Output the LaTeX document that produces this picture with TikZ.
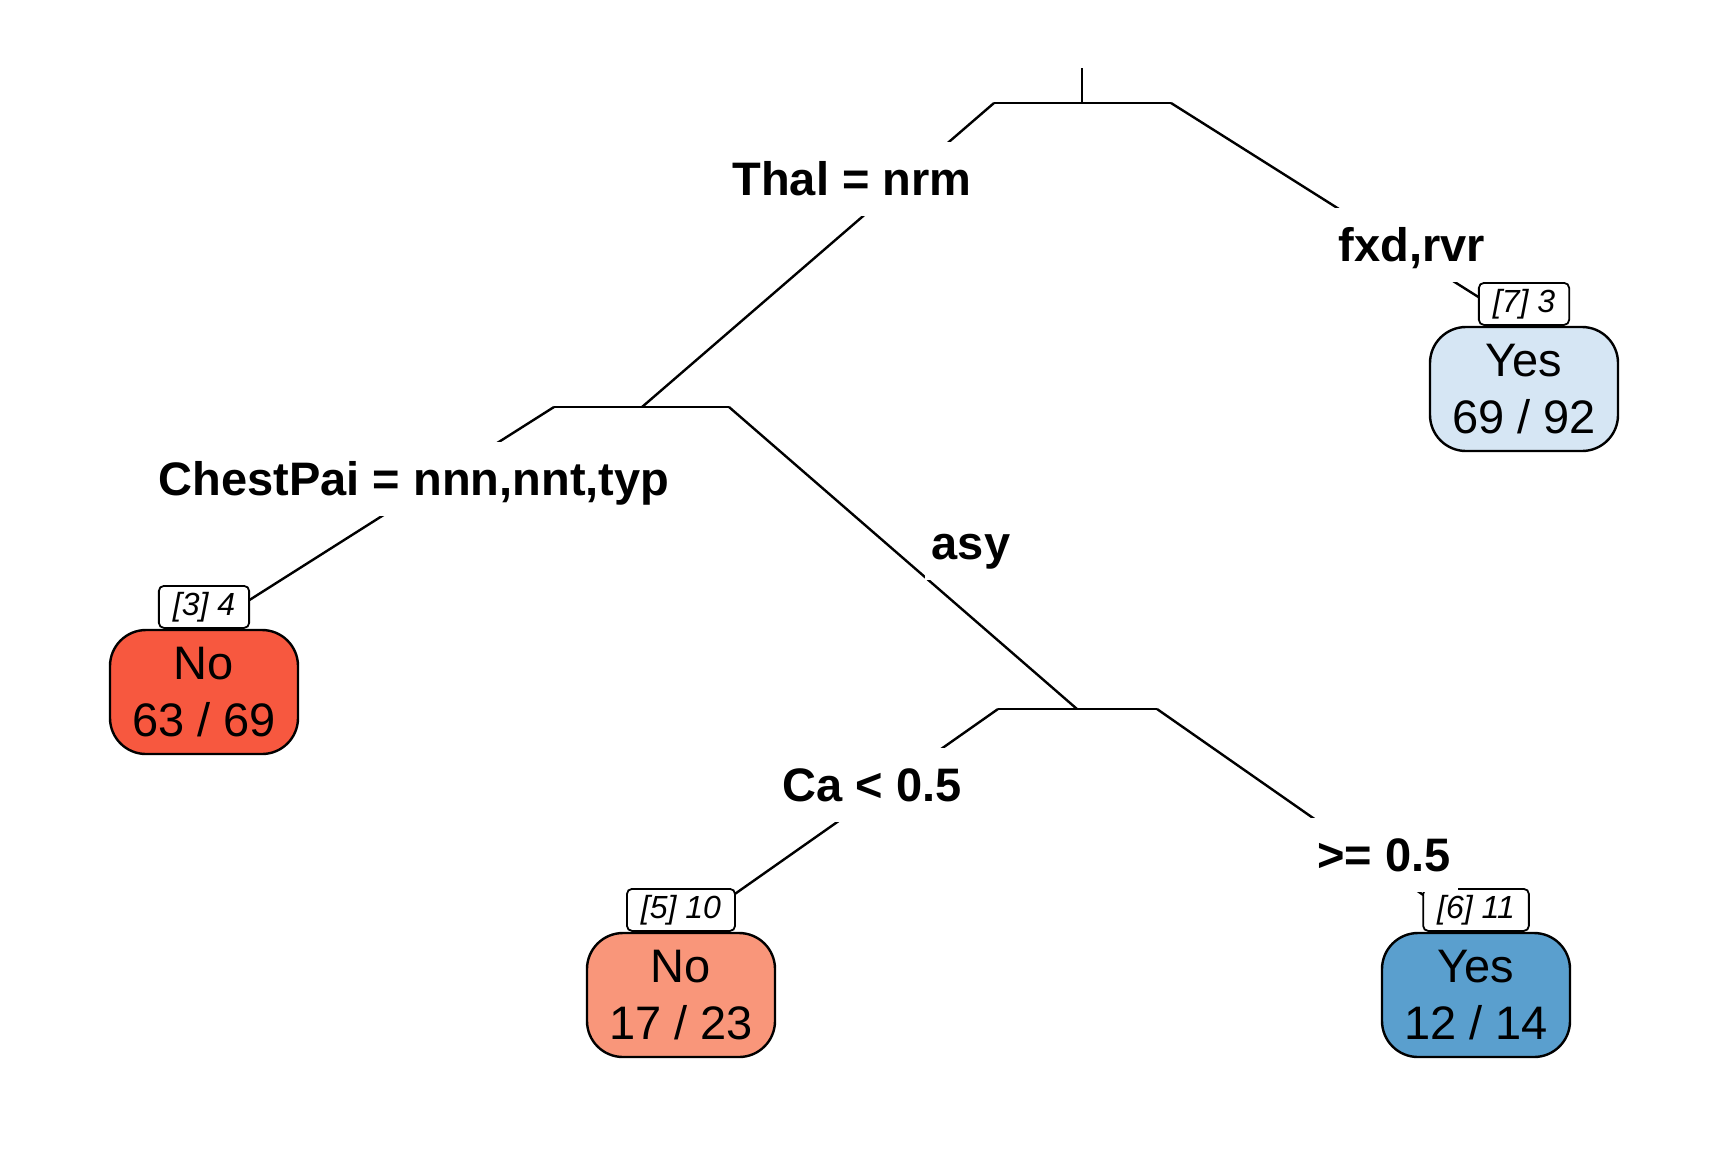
\documentclass[tikz,border=0pt]{standalone}
\usepackage{fontspec}
\setmainfont{Liberation Sans}
\definecolor{leafRed}{RGB}{247,88,63}
\definecolor{leafSalmon}{RGB}{249,150,122}
\definecolor{leafBlue}{RGB}{90,159,206}
\definecolor{leafLight}{RGB}{214,230,244}
\begin{document}
\begin{tikzpicture}[x=0.5pt,y=-0.5pt,
  branch/.style={line width=1.2pt},
  split/.style={fill=white, font=\fontsize{23.5}{28}\selectfont\bfseries, text height=16.8pt, text depth=0pt, inner ysep=10pt, inner xsep=3.5pt},
  leaf/.style={draw, line width=1.2pt, rounded corners=18pt, minimum width=94pt, minimum height=62pt, align=center, font=\fontsize{23.5}{28.5}\selectfont, inner sep=0pt},
  tag/.style={draw, fill=white, line width=0.9pt, rounded corners=2.5pt, minimum height=21pt, inner xsep=7pt, inner ysep=0pt, font=\fontsize{16}{16}\selectfont\itshape, anchor=south}
]
\useasboundingbox (0,0) rectangle (1728,1152);
% junctions
\coordinate (top) at (1082,68);
\coordinate (r) at (1082,103);
\coordinate (rl) at (994,103);
\coordinate (rr) at (1171,103);
\coordinate (n2) at (642,407);
\coordinate (n2l) at (554,407);
\coordinate (n2r) at (729,407);
\coordinate (n4) at (1077,709);
\coordinate (n4l) at (998,709);
\coordinate (n4r) at (1157,709);
% leaves
\node[leaf, fill=leafLight] (L7) at (1524,389) {Yes\\69 / 92};
\node[leaf, fill=leafRed] (L3) at (204,692) {No\\63 / 69};
\node[leaf, fill=leafSalmon] (L5) at (681,995) {No\\17 / 23};
\node[leaf, fill=leafBlue] (L6) at (1476,995) {Yes\\12 / 14};
% branches
\draw[branch] (top) -- (r);
\draw[branch] (rl) -- (rr);
\draw[branch] (rl) -- (n2);
\draw[branch] (rr) -- (L7.north);
\draw[branch] (n2l) -- (n2r);
\draw[branch] (n2l) -- (L3.north);
\draw[branch] (n2r) -- (n4);
\draw[branch] (n4l) -- (n4r);
\draw[branch] (n4l) -- (L5.north);
\draw[branch] (n4r) -- (L6.north);
% tags
\node[tag] (K7) at (L7.north) {[7] 3};
\node[tag] (K3) at (L3.north) {[3] 4};
\node[tag] (K5) at (L5.north) {[5] 10};
\node[tag] (K6) at (L6.north) {[6] 11};
% split labels
\node[split] (s1) at (852,179) {Thal = nrm};
\node[split] (s2) at (1412,245) {fxd,rvr};
\node[split] (s3) at (414,479) {ChestPai = nnn,nnt,typ};
\node[split] (s4) at (971,543) {asy};
\node[split] (s5) at (872,785) {Ca < 0.5};
\node[split] (s6) at (1384,855) {>= 0.5};
\end{tikzpicture}
\end{document}
